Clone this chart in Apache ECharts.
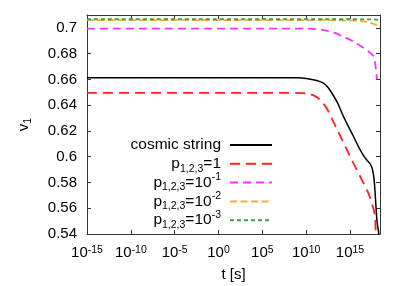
<!DOCTYPE html>
<html><head><meta charset="utf-8">
<script src="https://cdn.jsdelivr.net/npm/echarts@6/dist/echarts.min.js"></script>
<style>html,body{margin:0;padding:0;background:#fff}#c{width:409px;height:286px}</style>
</head><body><div id="c"></div>
<script>
// ---- data (t given as log10 exponent, v1 values) ----
const seriesNames = ['cosmic string', 'p_{1,2,3}=1', 'p_{1,2,3}=10^{-1}', 'p_{1,2,3}=10^{-2}', 'p_{1,2,3}=10^{-3}'];
const xTickExponents = [-15, -10, -5, 0, 5, 10, 15];

const csExp = [-15, 5, 9, 10, 10.8, 11.5, 12, 12.5, 13.1, 13.6, 14.2, 14.8, 15.4, 16.1, 16.6, 17.0, 17.3, 17.55, 17.75, 17.9, 18.05, 18.15, 18.25, 18.3];
const csV   = [0.6613, 0.6613, 0.6612, 0.6608, 0.6598, 0.6585, 0.6570, 0.6537, 0.6475, 0.6415, 0.6320, 0.6237, 0.6157, 0.6060, 0.6003, 0.5968, 0.5945, 0.5905, 0.5820, 0.5680, 0.5520, 0.5460, 0.5420, 0.5350];

const p1Exp = [-15, 5, 9.5, 10.3, 11.0, 11.6, 12.3, 12.9, 13.5, 14.1, 14.7, 15.2, 15.8, 16.35, 16.9, 17.2, 17.47, 17.7, 17.85, 17.93, 17.97];
const p1V   = [0.6496, 0.6496, 0.6494, 0.6488, 0.6470, 0.6440, 0.6380, 0.6300, 0.6215, 0.6130, 0.6045, 0.5975, 0.5895, 0.5820, 0.5745, 0.5700, 0.5640, 0.5590, 0.5535, 0.5420, 0.5350];

const p01Exp = [-15, 5, 10, 11, 12, 12.8, 13.5, 14.2, 15.0, 15.7, 16.5, 17.0, 17.4, 17.65, 17.8, 17.9, 17.98, 18.04, 18.08];
const p01V   = [0.6995, 0.6995, 0.6994, 0.6991, 0.6983, 0.6970, 0.6955, 0.6932, 0.6908, 0.6880, 0.6847, 0.6822, 0.6800, 0.6785, 0.6750, 0.6710, 0.6660, 0.6620, 0.6600];

const p001Exp = [-15, 10, 14, 15.5, 16.5, 17.0, 17.3, 17.6, 17.9, 18.1, 18.27];
const p001V   = [0.7060, 0.7060, 0.7059, 0.7056, 0.7050, 0.7045, 0.7040, 0.7033, 0.7025, 0.7018, 0.7008];

const p0001Exp = [-15, 15, 17, 18, 18.27];
const p0001V   = [0.7067, 0.7067, 0.7066, 0.7064, 0.7062];

// ---- styling ----
const FONT = 'Liberation Sans';
const colors = ['#000000', '#ff2020', '#ff30ff', '#ffaa33', '#3f9f3f'];
const dashes = ['solid', [10, 6], [8, 5], [7, 3.5], [4, 3]];
const widths = [1.5, 1.8, 1.8, 1.8, 1.8];
const exps = [csExp, p1Exp, p01Exp, p001Exp, p0001Exp];
const vals = [csV, p1V, p01V, p001V, p0001V];

function toRich(name) {
  // p_{1,2,3}=10^{-1}  ->  p{sub|1,2,3}=10{sup|-1}
  return name.replace(/_\{([^}]*)\}/g, '{sub|$1}').replace(/\^\{([^}]*)\}/g, '{sup|$1}');
}

const chart = echarts.init(document.getElementById('c'), null, {renderer: 'canvas'});
const X_MIN = 1e-15, X_MAX = Math.pow(10, 18.42);
const axisLineStyle = {color: '#333', width: 1};

const series = seriesNames.map((n, i) => ({
  name: n,
  type: 'line',
  showSymbol: false,
  symbol: 'none',
  smooth: 0.3,
  clip: true,
  lineStyle: {color: colors[i], width: widths[i], type: dashes[i]},
  itemStyle: {color: colors[i]},
  data: exps[i].map((e, k) => [Math.pow(10, e), vals[i][k]])
}));

chart.setOption({
  animation: false,
  backgroundColor: '#fff',
  textStyle: {fontFamily: FONT},
  grid: {left: 87, right: 29, top: 15, bottom: 52, containLabel: false, outerBoundsMode: 'none'},
  xAxis: [{
    type: 'log', logBase: 10, min: X_MIN, max: X_MAX, interval: 5,
    name: 't [s]', nameLocation: 'middle', nameGap: 33, nameMoveOverlap: false,
    nameTextStyle: {fontSize: 15, color: '#000', fontFamily: FONT},
    axisLine: {show: true, lineStyle: axisLineStyle},
    axisTick: {show: true, inside: true, length: 4, lineStyle: axisLineStyle},
    splitLine: {show: false},
    axisLabel: {
      margin: 11, showMaxLabel: false, color: '#000',
      formatter: function (v) {
        const e = Math.log10(v), r = Math.round(e);
        if (Math.abs(e - r) > 1e-6 || xTickExponents.indexOf(r) < 0) return '';
        return '{b|10}{s|' + r + '}';
      },
      rich: {
        b: {fontSize: 15, lineHeight: 15, verticalAlign: 'bottom', fontFamily: FONT, color: '#000'},
        s: {fontSize: 10.5, lineHeight: 10, verticalAlign: 'top', padding: [0, 0, 11.5, 0], fontFamily: FONT, color: '#000'}
      }
    }
  }, {
    type: 'log', logBase: 10, min: X_MIN, max: X_MAX, interval: 5, position: 'top',
    axisLine: {show: true, lineStyle: axisLineStyle},
    axisTick: {show: true, inside: true, length: 4, lineStyle: axisLineStyle},
    axisLabel: {show: false}, splitLine: {show: false}
  }],
  yAxis: [{
    type: 'value', min: 0.54, max: 0.71, interval: 0.02,
    name: 'v{sub|1}', nameLocation: 'middle', nameGap: 56, nameMoveOverlap: false,
    nameTextStyle: {fontSize: 15, color: '#000', fontFamily: FONT, lineHeight: 15,
      rich: {sub: {fontSize: 10.5, lineHeight: 10, padding: [9, 0, 0, 0], fontFamily: FONT, color: '#000'}}},
    axisLine: {show: true, lineStyle: axisLineStyle},
    axisTick: {show: true, inside: true, length: 4, lineStyle: axisLineStyle},
    splitLine: {show: false},
    axisLabel: {margin: 10, fontSize: 15, color: '#000', fontFamily: FONT, showMaxLabel: false}
  }, {
    type: 'value', min: 0.54, max: 0.71, interval: 0.02, position: 'right',
    axisLine: {show: true, lineStyle: axisLineStyle},
    axisTick: {show: true, inside: true, length: 4, lineStyle: axisLineStyle},
    axisLabel: {show: false}, splitLine: {show: false}
  }],
  legend: {
    show: true, orient: 'vertical', align: 'right',
    right: 136, top: 131, padding: 0,
    itemWidth: 42, itemHeight: 14, itemGap: -9.2,
    data: seriesNames,
    formatter: toRich,
    itemStyle: {opacity: 0},
    textStyle: {
      fontSize: 15.5, lineHeight: 28, color: '#000', fontFamily: FONT, padding: [0, 4, 0, 0],
      rich: {
        sub: {fontSize: 10.5, lineHeight: 10, verticalAlign: 'bottom', padding: [0, 0, 3.5, 0], fontFamily: FONT, color: '#000'},
        sup: {fontSize: 10.5, lineHeight: 10, verticalAlign: 'top', padding: [3, 0, 0, 0], fontFamily: FONT, color: '#000'}
      }
    }
  },
  series: series
});
</script></body></html>
